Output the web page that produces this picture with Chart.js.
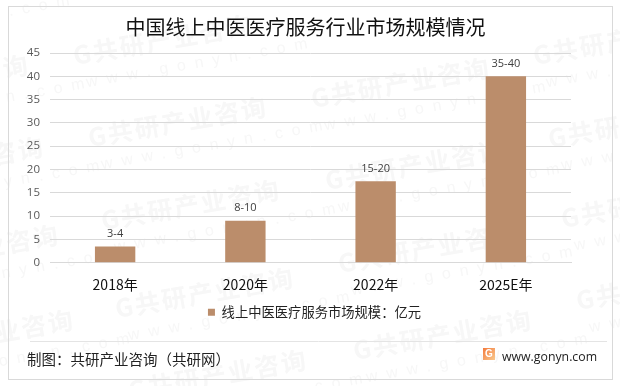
<!DOCTYPE html>
<html>
<head>
<meta charset="utf-8">
<style>
    html, body { margin: 0; padding: 0; background: #fff; }
    #wrap { width: 620px; height: 386px; }
</style>
<script src="https://cdn.jsdelivr.net/npm/chart.js@4"></script>
</head>
<body>
<div id="wrap"><canvas id="chart" width="620" height="386"></canvas></div>
<script>
const categories = ['2018年', '2020年', '2022年', '2025E年'];
const marketSize = [3.5, 9, 17.5, 40];
const rangeLabels = ['3-4', '8-10', '15-20', '35-40'];
const seriesName = '线上中医医疗服务市场规模：亿元';
const titleText = '中国线上中医医疗服务行业市场规模情况';
const sourceText = '制图：共研产业咨询（共研网）';
const siteText = 'www.gonyn.com';

const CJK = '"Noto Sans CJK SC", "Noto Sans", sans-serif';

// Background watermark, frame and footer
const pagePlugin = {
    id: 'page',
    afterLayout(chart) {
        // title and legend are not centred on the plot in the original
        chart.titleBlock.left += 16;
        chart.titleBlock.right += 16;
        chart.legend.left += 25;
        chart.legend.right += 25;
    },
    beforeDraw(chart) {
        const c = chart.ctx;
        c.save();
        c.fillStyle = '#fff';
        c.fillRect(0, 0, 620, 386);

        const spots = [[-163, 22], [-148, 105], [-133, 187], [-118, 275], [-103, 360],
            [75, 65], [90, 147], [103, 230], [117, 318], [130, 400],
            [313, 108], [327, 190], [340, 273], [355, 360],
            [535, 65], [550, 148], [563, 228], [578, 310]];
        spots.forEach(([x, y]) => {
            c.save();
            c.translate(x, y);
            c.rotate(-10 * Math.PI / 180);
            c.fillStyle = '#f7f7f7';
            c.font = 'bold 25px ' + CJK;
            c.letterSpacing = '2px';
            c.textBaseline = 'alphabetic';
            c.fillText('G共研产业咨询', 0, 0);
            c.font = '16px "Liberation Sans", sans-serif';
            c.letterSpacing = '9px';
            c.fillText('www.gonyn.com', 8, 24);
            c.restore();
        });

        c.strokeStyle = '#d9d9d9';
        c.lineWidth = 1;
        c.strokeRect(8.5, 6.5, 604, 373);
        c.beginPath();
        c.moveTo(30, 341.5);
        c.lineTo(607, 341.5);
        c.strokeStyle = '#e4e4e4';
        c.stroke();
        c.restore();
    },
    afterDraw(chart) {
        const c = chart.ctx;
        c.save();
        c.fillStyle = '#222';
        c.font = '14.5px ' + CJK;
        c.textBaseline = 'middle';
        c.fillText(sourceText, 27, 359);
        c.font = '12.3px "Open Sans", sans-serif';
        c.fillText(siteText, 502, 357);

        const g = c.createLinearGradient(483, 348, 495, 360);
        g.addColorStop(0, '#f47a3c');
        g.addColorStop(1, '#f9c98e');
        c.fillStyle = g;
        c.fillRect(483, 348, 12, 12);
        c.fillStyle = '#fff';
        c.font = 'bold 10px "Liberation Sans", sans-serif';
        c.textAlign = 'center';
        c.fillText('G', 489, 354.5);
        c.restore();
    }
};

// Range labels above the bars
const rangeLabelPlugin = {
    id: 'rangeLabels',
    afterDatasetsDraw(chart) {
        const c = chart.ctx;
        c.save();
        c.fillStyle = '#404040';
        c.font = '11px "Open Sans", sans-serif';
        c.textAlign = 'center';
        c.textBaseline = 'bottom';
        chart.getDatasetMeta(0).data.forEach((bar, i) => {
            c.fillText(rangeLabels[i], bar.x, bar.y - 7);
        });
        c.restore();
    }
};

new Chart(document.getElementById('chart'), {
    type: 'bar',
    data: {
        labels: categories,
        datasets: [{
            label: seriesName,
            data: marketSize,
            backgroundColor: '#bb8d6b',
            barPercentage: 0.62,
            categoryPercentage: 0.5
        }]
    },
    plugins: [pagePlugin, rangeLabelPlugin],
    options: {
        responsive: false,
        animation: false,
        layout: { padding: { left: 8, right: 49, top: 0, bottom: 57 } },
        plugins: {
            title: {
                display: true,
                text: titleText,
                color: '#111',
                font: { family: CJK, size: 20, weight: 'normal' },
                padding: { top: 15, bottom: 14 }
            },
            legend: {
                display: true,
                position: 'bottom',
                labels: {
                    boxWidth: 7,
                    boxHeight: 7,
                    color: '#222',
                    font: { family: CJK, size: 13.3 }
                }
            },
            tooltip: { enabled: false }
        },
        scales: {
            x: {
                grid: { display: false },
                border: { color: '#d9d9d9' },
                ticks: {
                    color: '#111',
                    padding: 6,
                    font: { family: CJK, size: 14 }
                },
                afterFit(scale) { scale.height = 33; }
            },
            y: {
                min: 0,
                max: 45,
                grid: { color: '#d9d9d9', drawTicks: false },
                border: { display: false },
                ticks: {
                    stepSize: 5,
                    color: '#595959',
                    padding: 10,
                    font: { family: '"Open Sans", sans-serif', size: 11.5 }
                },
                afterFit(scale) { scale.width = 42; }
            }
        }
    }
});
</script>
</body>
</html>
